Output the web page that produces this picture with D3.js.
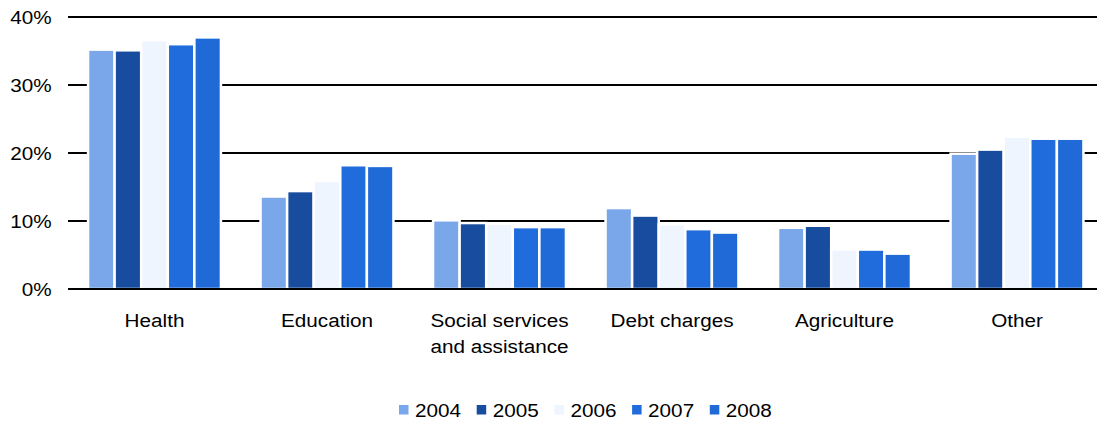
<!DOCTYPE html>
<html>
<head>
<meta charset="utf-8">
<script src="https://cdn.jsdelivr.net/npm/d3@7"></script>
<style>
  html, body { margin: 0; padding: 0; background: #fff; }
  svg { display: block; }
  text { font-family: Arial, "Liberation Sans", Helvetica, sans-serif; fill: #000; }
</style>
</head>
<body>
<svg id="chart" width="1097" height="422"></svg>
<script>
// Share of spending by category, per year (%)
const categories = ["Health", "Education", "Social services\nand assistance", "Debt charges", "Agriculture", "Other"];
const years = ["2004", "2005", "2006", "2007", "2008"];
const share2004 = [35.2, 13.6, 10.1, 11.9, 9.0, 19.9];
const share2005 = [35.1, 14.4, 9.7, 10.8, 9.3, 20.5];
const share2006 = [36.6, 15.9, 9.6, 9.5, 5.8, 22.4];
const share2007 = [36.0, 18.2, 9.1, 8.8, 5.8, 22.1];
const share2008 = [37.0, 18.1, 9.1, 8.3, 5.2, 22.1];
const yTicks = [0, 10, 20, 30, 40];
const tickLabels = ["0%", "10%", "20%", "30%", "40%"];

const seriesValues = [share2004, share2005, share2006, share2007, share2008];
const palette = ["#7aa6ea", "#174c9e", "#eef5fe", "#206cdc", "#1f6ad7"];

const W = 1097, H = 422;
const SX = 1.09;           // horizontal text stretch
const FONT = 19;

const svg = d3.select("#chart");

const y = d3.scaleLinear().domain([0, 40]).range([289, 17]);
const x0 = d3.scaleBand().domain(categories).range([68.25, 1103.25]).paddingInner(0).paddingOuter(0);
const x1 = d3.scaleBand().domain(years).range([0, x0.bandwidth()]).paddingInner(0).paddingOuter(0.745);
const color = d3.scaleOrdinal().domain(years).range(palette);

// horizontal gridlines (baseline redrawn above the bars)
svg.append("g")
  .selectAll("line")
  .data(yTicks.filter(d => d !== 0))
  .join("line")
  .attr("x1", 68).attr("x2", W)
  .attr("y1", d => y(d)).attr("y2", d => y(d))
  .attr("stroke", "#000").attr("stroke-width", 2);

// y tick labels
svg.append("g")
  .selectAll("text")
  .data(yTicks)
  .join("text")
  .attr("transform", d => `translate(51.7,${y(d)}) scale(${SX},1)`)
  .attr("dy", "0.36em")
  .attr("text-anchor", "end")
  .style("font-size", FONT + "px")
  .text((d, i) => tickLabels[i]);

// bars
const groups = svg.append("g")
  .selectAll("g")
  .data(categories)
  .join("g")
  .attr("transform", d => `translate(${x0(d)},0)`);

groups.selectAll("rect")
  .data((c, ci) => years.map((yr, si) => ({ year: yr, value: seriesValues[si][ci] })))
  .join("rect")
  .attr("x", d => x1(d.year))
  .attr("width", x1.bandwidth())
  .attr("y", d => y(d.value))
  .attr("height", d => y(0) - y(d.value))
  .attr("fill", d => color(d.year))
  .attr("stroke", "#fff")
  .attr("stroke-width", 2.5);

// baseline
svg.append("line")
  .attr("x1", 68).attr("x2", W)
  .attr("y1", y(0)).attr("y2", y(0))
  .attr("stroke", "#000").attr("stroke-width", 2);

// category labels
const catLabels = svg.append("g")
  .selectAll("text")
  .data(categories)
  .join("text")
  .attr("transform", d => `translate(${x0(d) + x0.bandwidth() / 2},327) scale(${SX},1)`)
  .attr("text-anchor", "middle")
  .style("font-size", FONT + "px");

catLabels.selectAll("tspan")
  .data(d => d.split("\n"))
  .join("tspan")
  .attr("x", 0)
  .attr("y", (d, i) => i * 26.5)
  .text(d => d);

// legend
const legendStep = 77.7;
const legend = svg.append("g")
  .selectAll("g")
  .data(years)
  .join("g")
  .attr("transform", (d, i) => `translate(${399 + i * legendStep},0)`);

legend.append("rect")
  .attr("x", 0).attr("y", 405)
  .attr("width", 9.5).attr("height", 9.5)
  .attr("fill", d => color(d));

legend.append("text")
  .attr("transform", `translate(16,416.5) scale(${SX},1)`)
  .style("font-size", FONT + "px")
  .text(d => d);
</script>
</body>
</html>
